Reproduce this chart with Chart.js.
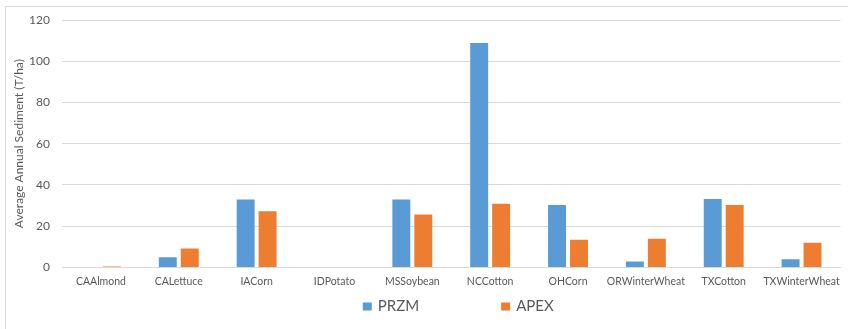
<!DOCTYPE html>
<html>
<head>
<meta charset="utf-8">
<script src="https://cdn.jsdelivr.net/npm/chart.js@4/dist/chart.umd.min.js"></script>
<style>
  html, body { margin: 0; padding: 0; background: #fff; }
  #wrap { position: relative; width: 848px; height: 329px; }
  #frame { position: absolute; left: 5px; top: 6px; width: 860px; height: 340px;
           border-top: 1px solid #d9d9d9; border-left: 1px solid #d9d9d9; }
  canvas { position: absolute; left: 0; top: 0; }
</style>
</head>
<body>
<div id="wrap">
  <div id="frame"></div>
  <canvas id="c" width="848" height="329"></canvas>
</div>
<script>
const categories = ["CAAlmond", "CALettuce", "IACorn", "IDPotato", "MSSoybean", "NCCotton", "OHCorn", "ORWinterWheat", "TXCotton", "TXWinterWheat"];
const przm = [0, 4.9, 32.9, 0, 32.9, 108.9, 30.3, 2.9, 33.2, 3.9];
const apex = [0.4, 9.2, 27.2, 0, 25.6, 30.9, 13.4, 13.9, 30.3, 12.0];
const yTicks = [0, 20, 40, 60, 80, 100, 120];
const seriesNames = ["PRZM", "APEX"];
const yTitle = "Average Annual Sediment (T/ha)";

const FONT = "Lato, 'Liberation Sans', sans-serif";

const customLegend = {
  id: 'customLegend',
  afterDraw(chart) {
    const ctx = chart.ctx;
    const ds = chart.data.datasets;
    ctx.save();
    ctx.font = '15px ' + FONT;
    const box = 9, gapText = 6, gapItem = 82;
    const widths = ds.map(d => ctx.measureText(d.label).width);
    let total = 0;
    widths.forEach((w, i) => { total += box + gapText + w + (i < widths.length - 1 ? gapItem : 0); });
    const ca = chart.chartArea;
    let x = (ca.left + ca.right) / 2 - total / 2 + 7;
    const yc = 306;
    ds.forEach((d, i) => {
      ctx.fillStyle = d.backgroundColor;
      ctx.fillRect(x, yc - 3.5, box, box - 1);
      x += box + gapText;
      ctx.fillStyle = '#595959';
      ctx.textBaseline = 'middle';
      ctx.textAlign = 'left';
      ctx.fillText(d.label, x, yc);
      x += widths[i] + gapItem;
    });
    ctx.restore();
  }
};

new Chart(document.getElementById('c'), {
  type: 'bar',
  data: {
    labels: categories,
    datasets: [
      { label: seriesNames[0], data: przm, backgroundColor: '#5B9BD5', borderWidth: 0,
        categoryPercentage: 0.564, barPercentage: 0.818 },
      { label: seriesNames[1], data: apex, backgroundColor: '#ED7D31', borderWidth: 0,
        categoryPercentage: 0.564, barPercentage: 0.818 }
    ]
  },
  plugins: [customLegend],
  options: {
    responsive: false,
    animation: false,
    layout: { padding: { left: 12, right: 6, top: 20, bottom: 33 } },
    plugins: {
      legend: { display: false },
      tooltip: { enabled: false }
    },
    scales: {
      x: {
        grid: { display: false, drawTicks: false },
        border: { display: true, color: '#d9d9d9' },
        ticks: { color: '#595959', font: { family: FONT, size: 10.5 }, padding: 8, maxRotation: 0, autoSkip: false }
      },
      y: {
        min: 0, max: 120,
        afterBuildTicks: s => { s.ticks = yTicks.map(v => ({ value: v })); },
        afterFit: s => { s.width = 50; },
        grid: { color: '#d9d9d9', drawTicks: false },
        border: { display: false },
        ticks: { color: '#595959', font: { family: FONT, size: 12 }, padding: 12 },
        title: { display: true, text: yTitle, color: '#595959', font: { family: FONT, size: 12 }, padding: { top: 0, bottom: 4 } }
      }
    }
  }
});
</script>
</body>
</html>
